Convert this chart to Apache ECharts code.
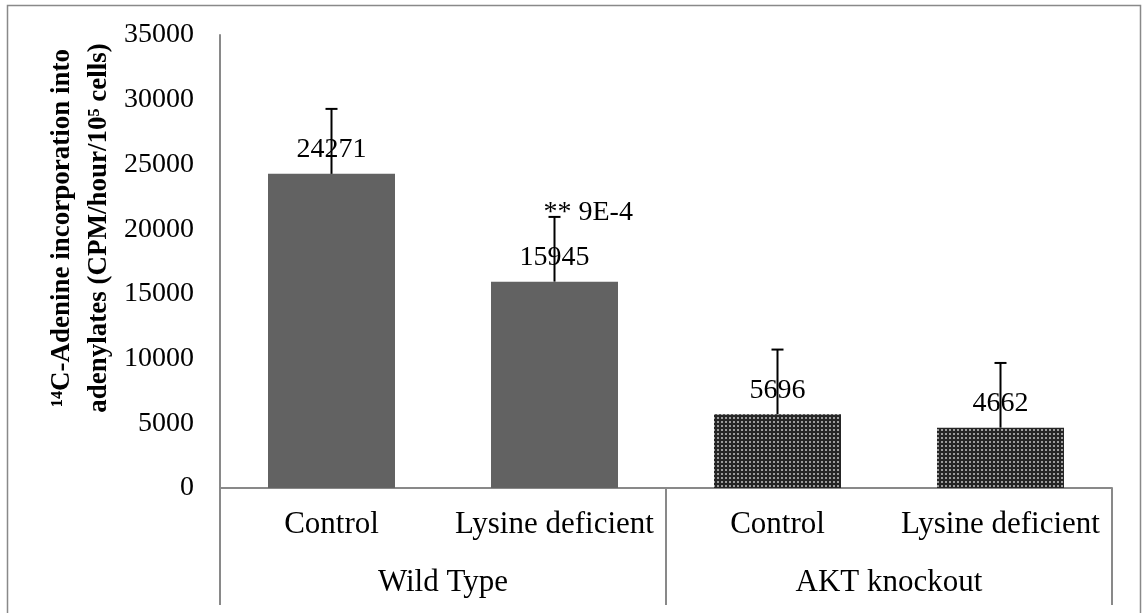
<!DOCTYPE html>
<html>
<head>
<meta charset="utf-8">
<title>Adenine incorporation</title>
<script src="https://cdn.jsdelivr.net/npm/echarts@6/dist/echarts.min.js"></script>
<style>
  html, body { margin: 0; padding: 0; background: #fff; }
  #chart { width: 1144px; height: 613px; }
</style>
</head>
<body>
<div id="chart"></div>
<script>
// data
const categories = ['Control', 'Lysine deficient', 'Control', 'Lysine deficient']
const groups = ['Wild Type', 'AKT knockout']
const values = [24271, 15945, 5696, 4662]
const errors = [5020, 5000, 5000, 5000]
const notes = ['', '** 9E-4', '', '']
const yTicks = { min: 0, max: 35000, interval: 5000 }

const fontFamily = '"Liberation Serif", "Times New Roman", serif'
const axisGray = '#898989'

// dotted pattern for the knockout bars
const makePattern = () => {
  const c = document.createElement('canvas')
  c.width = 4
  c.height = 4
  const ctx = c.getContext('2d')
  ctx.fillStyle = '#262626'
  ctx.fillRect(0, 0, 4, 4)
  ctx.fillStyle = '#9c9c9c'
  ctx.fillRect(1, 1, 2, 2)
  return c
}
const dotPattern = { image: makePattern(), repeat: 'repeat' }

const barData = values.map((v, i) => ({
  value: v,
  itemStyle: { color: i < 2 ? '#626262' : dotPattern },
}))

const errData = values.map((v, i) => [i, v, v + errors[i]])

const chart = echarts.init(document.getElementById('chart'))

chart.setOption({
  animation: false,
  textStyle: { fontFamily: fontFamily },
  grid: { left: 220, right: 32, top: 35, bottom: 125 },
  xAxis: [
    {
      type: 'category',
      data: categories,
      axisLine: { show: true, lineStyle: { color: axisGray, width: 2 } },
      axisTick: { show: false },
      axisLabel: { margin: 21, fontSize: 31, color: '#000', fontFamily: fontFamily, interval: 0 },
    },
    {
      type: 'category',
      data: groups,
      position: 'bottom',
      axisLine: { show: false },
      axisTick: { show: true, length: 117, interval: 0, lineStyle: { color: axisGray, width: 2 } },
      axisLabel: { margin: 79, fontSize: 31, color: '#000', fontFamily: fontFamily, interval: 0 },
    },
  ],
  yAxis: {
    type: 'value',
    min: yTicks.min,
    max: yTicks.max,
    interval: yTicks.interval,
    axisLine: { show: true, lineStyle: { color: axisGray, width: 2 } },
    axisTick: { show: false },
    splitLine: { show: false },
    axisLabel: {
      margin: 26,
      fontSize: 28,
      color: '#000',
      fontFamily: fontFamily,
      formatter: (v) => String(v),
    },
  },
  graphic: [
    {
      type: 'rect',
      silent: true,
      shape: { x: 7.5, y: 5.5, width: 1133, height: 620 },
      style: { fill: 'none', stroke: axisGray, lineWidth: 1.5 },
    },
    {
      type: 'text',
      silent: true,
      x: 81,
      y: 228,
      rotation: Math.PI / 2,
      style: {
        text: '¹⁴C-Adenine incorporation into\nadenylates (CPM/hour/10⁵ cells)',
        fontFamily: fontFamily,
        fontWeight: 'bold',
        fontSize: 27,
        lineHeight: 37,
        fill: '#000',
        textAlign: 'center',
        textVerticalAlign: 'middle',
      },
    },
  ],
  series: [
    {
      type: 'bar',
      xAxisIndex: 0,
      barWidth: 127,
      data: barData,
      label: {
        show: true,
        position: 'top',
        distance: 10,
        fontSize: 28,
        color: '#000',
        fontFamily: fontFamily,
      },
      z: 2,
    },
    {
      type: 'custom',
      xAxisIndex: 0,
      data: errData,
      z: 5,
      renderItem: (params, api) => {
        const base = api.coord([api.value(0), api.value(1)])
        const top = api.coord([api.value(0), api.value(2)])
        const style = { stroke: '#000', lineWidth: 2 }
        const children = [
          { type: 'line', shape: { x1: base[0], y1: base[1], x2: top[0], y2: top[1] }, style },
          { type: 'line', shape: { x1: top[0] - 6, y1: top[1], x2: top[0] + 6, y2: top[1] }, style },
        ]
        const note = notes[params.dataIndex]
        if (note) {
          children.push({
            type: 'text',
            x: top[0] - 11,
            y: top[1] - 4,
            style: {
              text: note,
              fontFamily: fontFamily,
              fontSize: 28,
              fill: '#000',
              textAlign: 'left',
              textVerticalAlign: 'middle',
            },
          })
        }
        return { type: 'group', children }
      },
    },
  ],
})
</script>
</body>
</html>
